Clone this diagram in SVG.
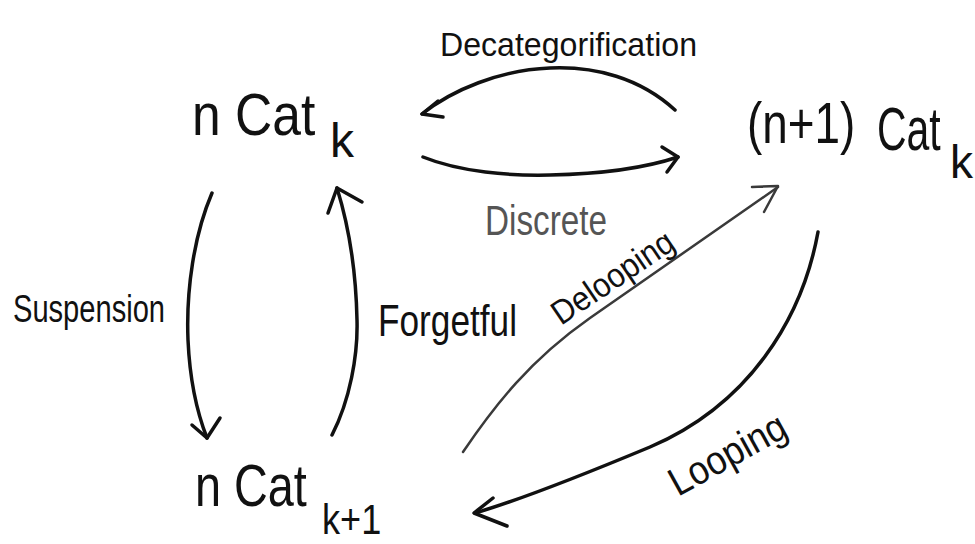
<svg xmlns="http://www.w3.org/2000/svg" width="975" height="544" viewBox="0 0 975 544">
<style>
text{font-family:"Liberation Sans","DejaVu Sans",sans-serif;fill:#111}
.lbl{fill:#111}
.gray{fill:#555}
.edge{fill:none;stroke:#111;stroke-width:3.5;stroke-linecap:round;stroke-linejoin:round}
.thin{stroke:#3a3a3a;stroke-width:2.5}
</style>
<rect width="975" height="544" fill="#fff"/>
<g id="node-nCatk">
<text font-size="60" transform="translate(192,135) scale(0.86,1)">n Cat</text>
<text x="330" y="157" font-size="48">k</text>
</g>
<g id="node-n1Catk">
<text font-size="58" transform="translate(747,143) scale(0.79,1)">(n+1)</text>
<text font-size="62" transform="translate(877,150) scale(0.66,1)">Cat</text>
<text x="950" y="178" font-size="46">k</text>
</g>
<g id="node-nCatk1">
<text font-size="60" transform="translate(195,506) scale(0.78,1)">n Cat</text>
<text font-size="42" transform="translate(322,534) scale(0.86,1)">k+1</text>
</g>
<g id="connectors">
<g id="e-decat">
<path class="edge" d="M675,110 C640,78 595,66 550,68 C500,70 452,90 422,114"/>
<path class="edge" d="M443,117 L422,114 L438,101"/>
<text class="lbl" x="440" y="56" font-size="34" textLength="257" lengthAdjust="spacingAndGlyphs">Decategorification</text>
</g>
<g id="e-discrete">
<path class="edge" d="M423,157 C460,172 510,176 550,175 C600,174 645,168 678,157"/>
<path class="edge" d="M662,147 L678,157 L667,172"/>
<text class="gray" x="485" y="235" font-size="42" textLength="122" lengthAdjust="spacingAndGlyphs">Discrete</text>
</g>
<g id="e-susp">
<path class="edge" d="M212,193 C194,235 186,290 188,340 C190,385 198,415 207,438"/>
<path class="edge" d="M192,425 L207,438 L220,418"/>
<text class="lbl" x="13" y="322" font-size="38" textLength="152" lengthAdjust="spacingAndGlyphs">Suspension</text>
</g>
<g id="e-forget">
<path class="edge" d="M332,435 C350,400 358,355 357,320 C356,270 350,230 337,188"/>
<path class="edge" d="M328,213 L337,188 L362,202"/>
<text class="lbl" x="378" y="336" font-size="44" textLength="139" lengthAdjust="spacingAndGlyphs">Forgetful</text>
</g>
<g id="e-deloop">
<path class="edge thin" d="M463,452 C495,405 530,360 590,318 L778,187"/>
<path class="edge thin" d="M752,187 L778,186 L764,212"/>
<text class="lbl" font-size="34" textLength="140" lengthAdjust="spacingAndGlyphs" transform="translate(561,326) rotate(-34)">Delooping</text>
</g>
<g id="e-loop">
<path class="edge" d="M818,232 C802,320 748,405 650,447 C590,472 520,500 475,513"/>
<path class="edge" d="M493,498 L474,513 L507,526"/>
<text class="lbl" font-size="40" textLength="128" lengthAdjust="spacingAndGlyphs" transform="translate(678,497) rotate(-29)">Looping</text>
</g>
</g>
</svg>
